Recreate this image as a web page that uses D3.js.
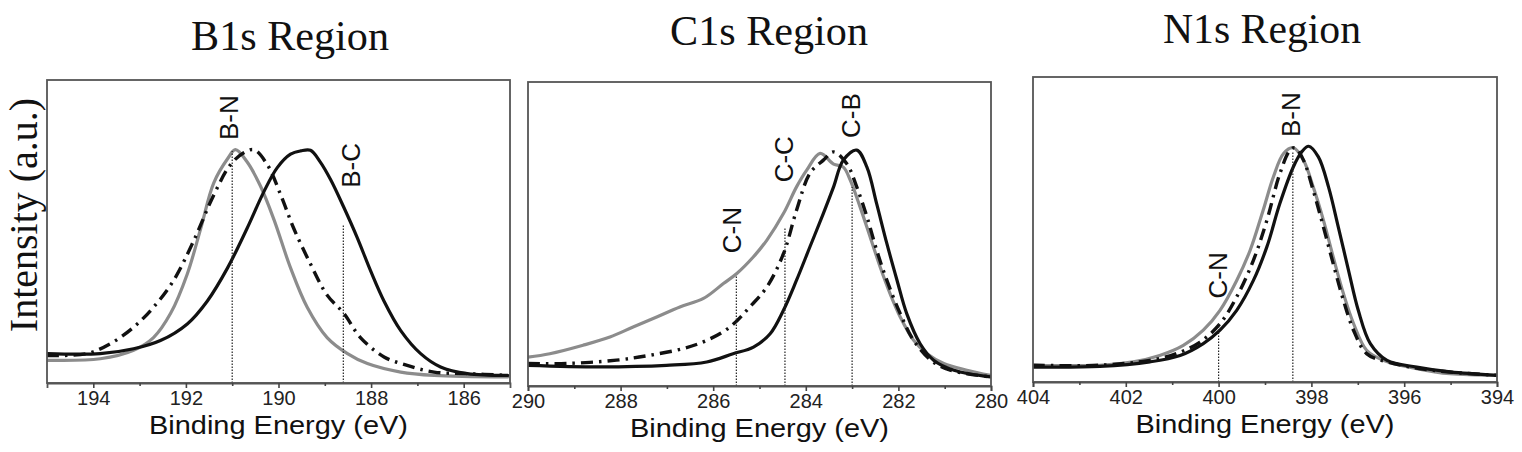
<!DOCTYPE html>
<html>
<head>
<meta charset="utf-8">
<script src="https://cdn.jsdelivr.net/npm/d3@7"></script>
<style>
  html, body { margin: 0; padding: 0; background: #fff; }
  svg { display: block; }
</style>
</head>
<body>
<svg id="chart" width="1522" height="452"></svg>
<script>
// ---------------- DATA (binding energy eV, intensity a.u. 0-100) ----------------
const panelTitles = ["B1s Region", "C1s Region", "N1s Region"];
const xDomains = [[195, 185], [290, 280], [404, 394]];
const tickValues = [[194, 192, 190, 188, 186], [290, 288, 286, 284, 282, 280], [404, 402, 400, 398, 396, 394]];
const minorTickValues = [[193, 191, 189, 187], [289, 287, 285, 283, 281], [403, 401, 399, 397, 395]];

const b1sGray = [[195,7.5],[193.85,8],[193.13,10.8],[192.7,15],[192.33,23],[191.97,36],[191.68,51],[191.4,66],[191.1,74],[190.93,77],[190.68,73],[190.39,65],[190.1,54],[189.74,38],[189.38,25],[188.95,15],[188.51,9.7],[188.08,6.4],[187.36,3.6],[186.64,2.5],[185.05,2]];
const b1sDashDot = [[195,9.1],[194.14,9.7],[193.63,13],[193.13,18.4],[192.7,25],[192.26,34],[191.83,47],[191.4,62],[191.04,72],[190.75,76],[190.53,77],[190.24,72],[189.95,62],[189.67,51],[189.3,39],[188.95,29],[188.59,23],[188.23,15],[187.72,8.6],[187.22,5.8],[186.64,3.6],[185.92,3.1],[185.05,2.5]];
const b1sBlack = [[195,9.7],[193.85,9.7],[193.13,11.3],[192.55,14],[191.97,19.5],[191.54,27],[191.1,38],[190.68,51],[190.32,63],[190.03,71],[189.74,75.5],[189.52,76.6],[189.31,76.8],[189.1,73],[188.87,67],[188.59,58],[188.3,48],[188.01,37],[187.72,27],[187.36,17.3],[186.93,9.7],[186.5,5.3],[185.92,3.1],[185.05,2.5]];

const c1sGray = [[290,9.5],[289.53,10.6],[288.81,13.4],[288.23,16.1],[287.73,19.4],[287.22,22.7],[286.72,26],[286.21,28.8],[285.78,33.7],[285.49,37],[285.13,42.5],[284.84,48],[284.48,56.8],[284.2,65.5],[283.98,71],[283.69,76.5],[283.4,73],[283.19,72],[283.04,67.7],[282.83,59],[282.61,49],[282.39,39],[282.18,30.4],[281.96,22.7],[281.67,15],[281.38,10.6],[281.02,7.4],[280.52,5.2],[280.01,3.5]];
const c1sDashDot = [[290,7.4],[289.17,7.4],[288.09,8.5],[287.37,10.1],[286.65,12.3],[286.14,15],[285.64,19.4],[285.21,26],[284.84,32.6],[284.48,43.6],[284.2,57.8],[283.91,70],[283.62,74.3],[283.4,77],[283.11,73],[282.9,65.5],[282.68,55.7],[282.47,44.7],[282.25,34.8],[281.96,23.8],[281.67,15],[281.3,8.5],[280.88,5.2],[280.01,3]];
const c1sBlack = [[290,6.8],[288.45,6.3],[287.01,6.8],[286.14,7.9],[285.57,10.6],[285.13,12.8],[284.77,17.2],[284.48,25],[284.2,34.8],[283.91,45.8],[283.62,56.8],[283.4,65.5],[283.19,74.3],[282.9,77.6],[282.68,72],[282.47,60],[282.25,46.9],[282.03,34.8],[281.82,23.8],[281.53,13.9],[281.24,8.5],[280.8,5.2],[280.01,3]];

const n1sGray = [[404,5.5],[402.56,5.5],[401.84,6.6],[401.27,8.7],[400.76,12],[400.33,17],[399.97,23.5],[399.61,33.3],[399.32,43.2],[399.04,56.3],[398.82,67.2],[398.6,74.9],[398.39,76.8],[398.17,72.7],[397.96,63.9],[397.74,53],[397.53,41],[397.31,29],[397.09,19.1],[396.81,10.4],[396.45,7.1],[395.73,4.4],[395.01,2.7],[394,2.2]];
const n1sDashDot = [[404,5.5],[402.56,5.5],[401.48,7.1],[400.91,9.3],[400.4,13.1],[399.97,19.1],[399.61,27.9],[399.25,39.9],[398.96,53],[398.68,68.3],[398.46,76],[398.35,76.8],[398.17,72.7],[397.96,62.8],[397.74,50.8],[397.53,38.8],[397.31,26.8],[397.09,16.9],[396.81,9.3],[396.37,6.6],[395.37,3.8],[394,2.2]];
const n1sBlack = [[404,4.9],[402.56,5.1],[401.48,6.6],[400.83,8.7],[400.33,12.6],[399.97,17],[399.61,23.5],[399.25,33.3],[398.96,44.3],[398.68,58.5],[398.39,70.5],[398.21,75.4],[398.06,77.3],[397.85,73.8],[397.63,63.9],[397.42,50.8],[397.2,36.6],[396.99,23.5],[396.73,12.6],[396.37,7.1],[395.73,4.9],[395.01,3.3],[394,2.2]];

// bond markers: label, energy, top of dotted line (intensity), label start (intensity)
const b1sMarks = [{label:"B-N", energy:191.0, top:76.6, labelAt:80.2}, {label:"B-C", energy:188.6, top:52.5, labelAt:64.4}];
const c1sMarks = [{label:"C-N", energy:285.5, top:36, labelAt:43.7}, {label:"C-C", energy:284.45, top:52, labelAt:67}, {label:"C-B", energy:283.0, top:65.5, labelAt:81.6}];
const n1sMarks = [{label:"C-N", energy:400.0, top:19.1, labelAt:27.4}, {label:"B-N", energy:398.4, top:75.4, labelAt:80.3}];

const seriesByPanel = [[b1sGray, b1sDashDot, b1sBlack], [c1sGray, c1sDashDot, c1sBlack], [n1sGray, n1sDashDot, n1sBlack]];
const marksByPanel = [b1sMarks, c1sMarks, n1sMarks];

// ---------------- LAYOUT ----------------
const frames = [
  {l: 47,  r: 510,  t: 80,  b: 383, titleX: 290,  titleY: 50, labelDx: [6, 17]},
  {l: 528, r: 991,  t: 82,  b: 386, titleX: 769,  titleY: 45, labelDx: [5, 8, 8]},
  {l: 1033, r: 1497, t: 77, b: 382, titleX: 1262, titleY: 43, labelDx: [8, 7]}
];
const seriesStyles = [
  {stroke: "#8c8c8c", width: 3.2, dash: null},
  {stroke: "#111", width: 3.4, dash: "12,6,2.5,6"},
  {stroke: "#111", width: 3.2, dash: null}
];

const svg = d3.select("#chart");
const defs = svg.append("defs");

frames.forEach((f, i) => {
  const x = d3.scaleLinear().domain(xDomains[i]).range([f.l, f.r]);
  const y = d3.scaleLinear().domain([0, 100]).range([f.b, f.t]);
  const g = svg.append("g");

  defs.append("clipPath").attr("id", "clip" + i)
    .append("rect").attr("x", f.l).attr("y", f.t).attr("width", f.r - f.l).attr("height", f.b - f.t);

  // title
  g.append("text").attr("x", f.titleX).attr("y", f.titleY)
    .attr("text-anchor", "middle")
    .attr("font-family", "'Liberation Serif','Times New Roman',serif")
    .attr("font-size", 43).attr("fill", "#111")
    .attr("textLength", 198).attr("lengthAdjust", "spacingAndGlyphs")
    .text(panelTitles[i]);

  // curves
  const line = d3.line().x(d => x(d[0])).y(d => y(d[1])).curve(d3.curveCatmullRom.alpha(0.5));
  const plot = g.append("g").attr("clip-path", "url(#clip" + i + ")");
  seriesByPanel[i].forEach((s, k) => {
    const st = seriesStyles[k];
    plot.append("path").datum(s)
      .attr("d", line)
      .attr("fill", "none")
      .attr("stroke", st.stroke)
      .attr("stroke-width", st.width)
      .attr("stroke-linejoin", "round")
      .attr("stroke-linecap", st.dash ? "butt" : "round")
      .attr("stroke-dasharray", st.dash);
  });

  // dotted marker lines + labels
  marksByPanel[i].forEach((m, k) => {
    g.append("line")
      .attr("x1", x(m.energy)).attr("x2", x(m.energy))
      .attr("y1", y(0)).attr("y2", y(m.top))
      .attr("stroke", "#222").attr("stroke-width", 1.2)
      .attr("stroke-dasharray", "1.5,1.5");
    const lx = x(m.energy) + f.labelDx[k];
    const ly = y(m.labelAt);
    g.append("text")
      .attr("transform", `translate(${lx},${ly}) rotate(-90)`)
      .attr("font-family", "'Liberation Sans',Arial,sans-serif")
      .attr("font-size", 26).attr("fill", "#111")
      .text(m.label);
  });

  // frame
  g.append("rect").attr("x", f.l).attr("y", f.t)
    .attr("width", f.r - f.l).attr("height", f.b - f.t)
    .attr("fill", "none").attr("stroke", "#555").attr("stroke-width", 1.8);

  // x axis
  const axis = d3.axisBottom(x).tickValues(tickValues[i]).tickSize(5).tickPadding(3).tickFormat(d3.format("d"));
  const ax = g.append("g").attr("transform", `translate(0,${f.b})`).call(axis);
  ax.select(".domain").attr("stroke", "#555").attr("stroke-width", 1.8);
  ax.selectAll(".tick line").attr("stroke", "#444").attr("stroke-width", 1.6);
  ax.selectAll(".tick text")
    .attr("font-family", "'Liberation Sans',Arial,sans-serif")
    .attr("font-size", 20).attr("fill", "#222");
  const minor = d3.axisBottom(x).tickValues(minorTickValues[i]).tickSize(3).tickFormat("");
  const mx = g.append("g").attr("transform", `translate(0,${f.b})`).call(minor);
  mx.select(".domain").remove();
  mx.selectAll(".tick line").attr("stroke", "#444").attr("stroke-width", 1.6);

  // x axis title
  g.append("text").attr("x", (f.l + f.r) / 2).attr("y", f.b + 51)
    .attr("text-anchor", "middle")
    .attr("font-family", "'Liberation Sans',Arial,sans-serif")
    .attr("font-size", 25).attr("fill", "#111")
    .attr("textLength", 259).attr("lengthAdjust", "spacingAndGlyphs")
    .text("Binding Energy (eV)");
});

// y axis title (first panel only)
svg.append("text")
  .attr("transform", "translate(37,215) rotate(-90)")
  .attr("text-anchor", "middle")
  .attr("font-family", "'Liberation Serif','Times New Roman',serif")
  .attr("font-size", 40).attr("fill", "#111")
  .text("Intensity (a.u.)");
</script>
</body>
</html>
